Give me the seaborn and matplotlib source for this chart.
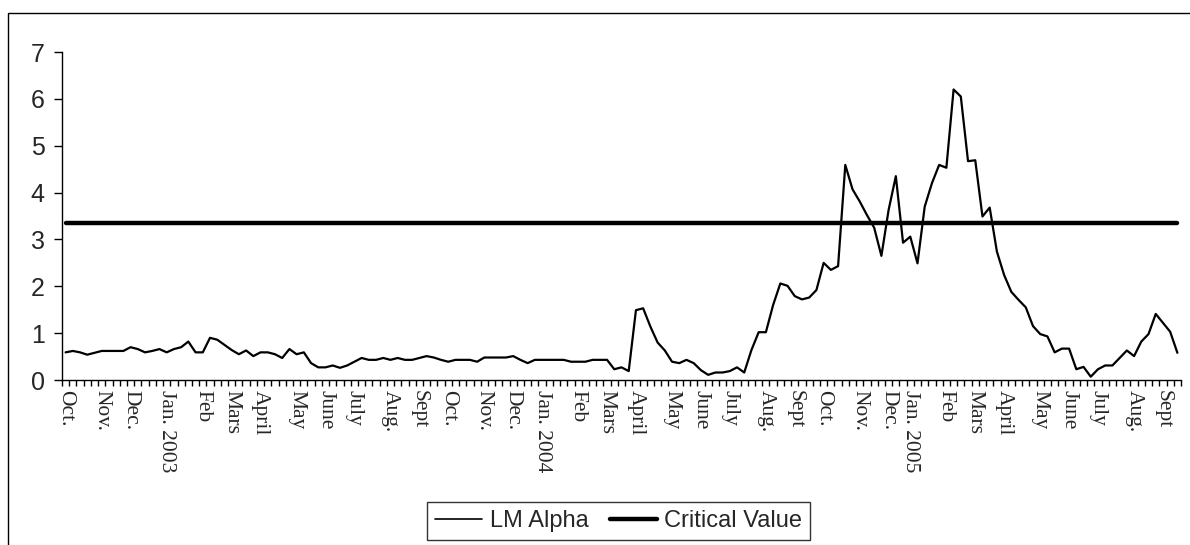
import numpy as np
import pandas as pd
import matplotlib
matplotlib.use("Agg")
import matplotlib.pyplot as plt
from matplotlib.patches import Rectangle
import seaborn as sns

# weekly LM alpha statistic, Oct. 2002 - Sept. 2005
lm_alpha = [
    0.59, 0.62, 0.59, 0.54, 0.58, 0.62, 0.62, 0.62, 0.62, 0.70,
    0.66, 0.59, 0.62, 0.66, 0.59, 0.66, 0.70, 0.82, 0.59, 0.59,
    0.90, 0.86, 0.75, 0.64, 0.55, 0.63, 0.51, 0.59, 0.59, 0.55,
    0.47, 0.66, 0.55, 0.59, 0.36, 0.27, 0.27, 0.31, 0.26, 0.31,
    0.39, 0.47, 0.43, 0.43, 0.47, 0.43, 0.47, 0.43, 0.43, 0.47,
    0.51, 0.48, 0.43, 0.39, 0.43, 0.43, 0.43, 0.39, 0.48, 0.48,
    0.48, 0.48, 0.51, 0.43, 0.36, 0.43, 0.43, 0.43, 0.43, 0.43,
    0.39, 0.39, 0.39, 0.43, 0.43, 0.43, 0.23, 0.27, 0.19, 1.49,
    1.53, 1.14, 0.80, 0.63, 0.39, 0.36, 0.43, 0.36, 0.21, 0.11,
    0.16, 0.16, 0.19, 0.27, 0.16, 0.64, 1.02, 1.02, 1.60, 2.06,
    2.01, 1.79, 1.72, 1.76, 1.92, 2.50, 2.35, 2.43, 4.59, 4.07,
    3.81, 3.52, 3.25, 2.65, 3.63, 4.35, 2.93, 3.06, 2.49, 3.70,
    4.20, 4.59, 4.53, 6.20, 6.05, 4.67, 4.69, 3.49, 3.68, 2.74,
    2.24, 1.88, 1.71, 1.55, 1.15, 0.98, 0.93, 0.59, 0.67, 0.67,
    0.23, 0.28, 0.07, 0.23, 0.31, 0.31, 0.47, 0.63, 0.51, 0.82,
    0.98, 1.41, 1.22, 1.03, 0.58,
]
critical_value = 3.36

month_labels = [
    "Oct.", "Nov.", "Dec.", "Jan. 2003", "Feb", "Mars", "April", "May",
    "June", "July", "Aug.", "Sept",
    "Oct.", "Nov.", "Dec.", "Jan. 2004", "Feb", "Mars", "April", "May",
    "June", "July", "Aug.", "Sept",
    "Oct.", "Nov.", "Dec.", "Jan. 2005", "Feb", "Mars", "April", "May",
    "June", "July", "Aug.", "Sept",
]
label_weeks = [
    0, 5, 9, 14, 19, 23, 27, 32, 36, 40, 45, 49,
    53, 58, 62, 66, 71, 75, 79, 84, 88, 92, 97, 101,
    105, 110, 114, 117, 122, 126, 130, 135, 139, 143, 148, 152,
]

df = pd.DataFrame({"week": np.arange(len(lm_alpha)), "lm": lm_alpha})
df["crit"] = critical_value

sns.set_style("ticks")
plt.rcParams["font.family"] = ["Liberation Sans", "DejaVu Sans"]

W, H = 1190, 545
fig = plt.figure(figsize=(W / 100, H / 100), dpi=100)
ax = fig.add_axes([62 / W, 1 - 380 / H, (1181 - 62) / W, (380 - 52) / H])

sns.lineplot(data=df, x="week", y="lm", ax=ax, color="black", lw=1.6, label="LM Alpha")
sns.lineplot(data=df, x="week", y="crit", ax=ax, color="black", lw=3.2, label="Critical Value")

ax.set_xlim(-0.5, len(lm_alpha) - 0.5)
ax.set_ylim(0, 7)
ax.set_xlabel("")
ax.set_ylabel("")

ax.set_yticks(range(8))
ax.tick_params(axis="y", labelsize=18, length=5.5, width=1, color="black", pad=7, direction="out")

ax.set_xticks(label_weeks)
ax.set_xticklabels(month_labels, rotation=-90, fontsize=15.5, family="Liberation Serif")
ax.tick_params(axis="x", which="major", length=0, pad=7)
ax.set_xticks(np.arange(-0.5, len(lm_alpha), 1), minor=True)
ax.tick_params(axis="x", which="minor", length=4.5, width=1, color="black", direction="out")

for s in ["top", "right"]:
    ax.spines[s].set_visible(False)
for s in ["left", "bottom"]:
    ax.spines[s].set_color("black")
    ax.spines[s].set_linewidth(1)

leg = ax.legend(loc="center", bbox_to_anchor=(618.5 / W, 1 - 521 / H),
                bbox_transform=fig.transFigure, ncol=2, fontsize=17,
                frameon=True, fancybox=False, edgecolor="black",
                handlelength=2.0, handletextpad=0.3, columnspacing=0.9,
                borderpad=0.35, borderaxespad=0)
leg.get_frame().set_linewidth(1)
leg.get_lines()[0].set_linewidth(1.2)

# outer chart-area frame, cut off at right and bottom
fig.add_artist(Rectangle((8 / W, -1), 2, 1 + (1 - 13 / H), transform=fig.transFigure,
                         fill=False, edgecolor="black", lw=1))

fig.savefig("out.png", dpi=100)
